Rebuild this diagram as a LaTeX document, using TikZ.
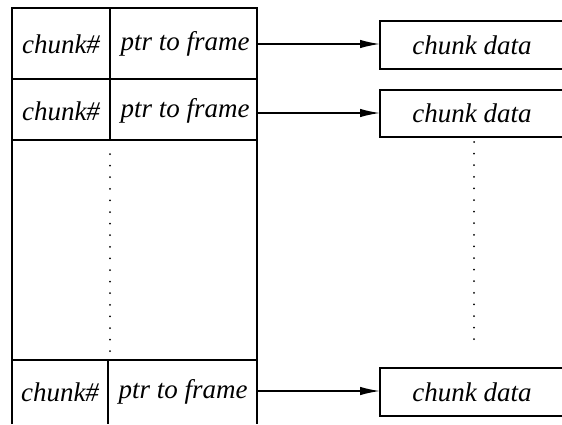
\documentclass[tikz,border=0pt]{standalone}
\usepackage{fontspec}
\newfontfamily\tablefont{Liberation Serif}[ItalicFont={Liberation Serif Italic}]
\usetikzlibrary{arrows.meta}
\begin{document}
\begin{tikzpicture}[x=1pt,y=-1pt,
  rule/.style={line width=1.5pt},
  cell/.style={font=\tablefont\fontsize{27}{30}\selectfont\itshape, inner sep=0pt, anchor=center},
  link/.style={line width=1.5pt, -{Latex[length=20pt,width=8.5pt]}},
  dotline/.style={line width=2pt, line cap=round, dash pattern=on 0pt off 11.6pt}]
\useasboundingbox (0,0) rectangle (562,424);
\clip (0,0) rectangle (562,424);

% table frame
\draw[rule] (12,424) -- (12,8) -- (257,8) -- (257,424);
\draw[rule] (12,79) -- (257,79);
\draw[rule] (12,140) -- (257,140);
\draw[rule] (12,360) -- (257,360);
% column dividers
\draw[rule] (110,8) -- (110,140);
\draw[rule] (108,360) -- (108,424);
\draw[dotline] (110,154) -- (110,352);

% table entries
\node[cell] (c1) at (61,44) {chunk\#};
\node[cell] (p1) at (185,44) {ptr to frame};
\node[cell] (c2) at (61,111) {chunk\#};
\node[cell] (p2) at (185,111) {ptr to frame};
\node[cell] (c3) at (60,392) {chunk\#};
\node[cell] (p3) at (183,392) {ptr to frame};

% chunk data boxes (open on the right)
\draw[rule] (580,21) -- (380,21) -- (380,69) -- (580,69);
\draw[rule] (580,90) -- (380,90) -- (380,137) -- (580,137);
\draw[rule] (580,368) -- (380,368) -- (380,416) -- (580,416);
\node[cell] (d1) at (472,45) {chunk data};
\node[cell] (d2) at (472,113) {chunk data};
\node[cell] (d3) at (472,392) {chunk data};
\draw[dotline] (474,142) -- (474,350);

% pointers
\coordinate (s1) at (257,44);  \coordinate (t1) at (380,44);
\coordinate (s2) at (257,113); \coordinate (t2) at (380,113);
\coordinate (s3) at (257,391); \coordinate (t3) at (380,391);
\draw[link] (s1) -- (t1);
\draw[link] (s2) -- (t2);
\draw[link] (s3) -- (t3);
\end{tikzpicture}
\end{document}
